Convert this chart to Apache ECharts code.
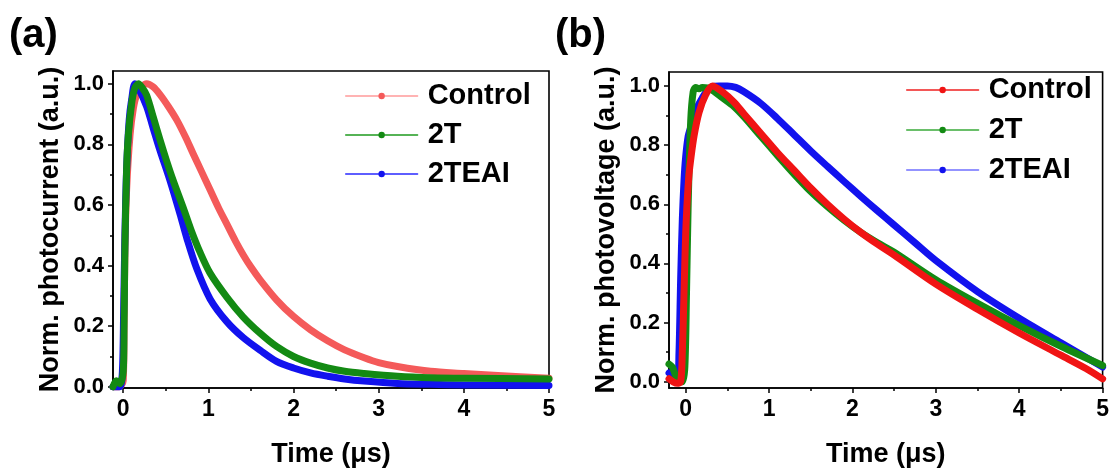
<!DOCTYPE html>
<html><head><meta charset="utf-8">
<script src="https://cdn.jsdelivr.net/npm/echarts@6/dist/echarts.min.js"></script>
<style>html,body{margin:0;padding:0;background:#fff}#c{width:1112px;height:473px}</style>
</head><body><div id="c"></div>
<script>
const seriesNames = ['Control', '2T', '2TEAI'];
const xTickValues = [0, 1, 2, 3, 4, 5];
const xMinorValues = [0.5, 1.5, 2.5, 3.5, 4.5];
const yTickValues = [0, 0.2, 0.4, 0.6, 0.8, 1.0];
const yMinorValues = [0.1, 0.3, 0.5, 0.7, 0.9];
const panelLabels = ['(a)', '(b)'];
const yTitles = ['Norm. photocurrent (a.u.)', 'Norm. photovoltage (a.u.)'];
const xTitle = 'Time (\u03bcs)';

// Panel (a): normalized photocurrent
const tA_control = [-0.12, -0.05, 0.0, 0.01, 0.02, 0.04, 0.08, 0.12, 0.16, 0.22, 0.275, 0.35, 0.43, 0.53, 0.63, 0.73, 0.82, 0.92, 1.02, 1.12, 1.22, 1.32, 1.41, 1.5, 1.61, 1.8, 2.0, 2.2, 2.4, 2.6, 2.83, 3.0, 3.22, 3.61, 4.0, 4.4, 5.0];
const vA_control = [0.0, 0.0, 0.02, 0.2, 0.45, 0.65, 0.83, 0.92, 0.965, 0.99, 1.0, 0.99, 0.965, 0.925, 0.88, 0.825, 0.77, 0.71, 0.65, 0.59, 0.535, 0.48, 0.435, 0.395, 0.352, 0.287, 0.232, 0.188, 0.152, 0.122, 0.096, 0.08, 0.067, 0.051, 0.044, 0.037, 0.028];
const tA_2T = [-0.12, -0.08, -0.04, 0.0, 0.01, 0.02, 0.04, 0.06, 0.1, 0.137, 0.178, 0.22, 0.275, 0.353, 0.432, 0.51, 0.588, 0.706, 0.8, 0.9, 1.02, 1.216, 1.41, 1.61, 1.8, 2.0, 2.2, 2.4, 2.6, 2.83, 3.22, 3.61, 4.0, 5.0];
const vA_2T = [0.0, 0.02, 0.01, 0.05, 0.2, 0.46, 0.72, 0.83, 0.937, 0.986, 1.0, 0.988, 0.962, 0.89, 0.815, 0.745, 0.68, 0.59, 0.515, 0.445, 0.375, 0.296, 0.23, 0.176, 0.133, 0.1, 0.078, 0.062, 0.051, 0.044, 0.035, 0.03, 0.028, 0.026];
const tA_2TEAI = [-0.12, -0.04, -0.01, 0.005, 0.02, 0.04, 0.07, 0.1, 0.137, 0.18, 0.275, 0.35, 0.432, 0.55, 0.667, 0.75, 0.863, 1.02, 1.216, 1.41, 1.61, 1.8, 2.0, 2.2, 2.4, 2.6, 2.83, 3.22, 3.61, 4.0, 5.0];
const vA_2TEAI = [0.0, 0.0, 0.05, 0.25, 0.5, 0.72, 0.88, 0.95, 1.0, 0.985, 0.925, 0.855, 0.78, 0.68, 0.57, 0.487, 0.39, 0.29, 0.215, 0.162, 0.12, 0.084, 0.062, 0.046, 0.035, 0.026, 0.019, 0.011, 0.008, 0.006, 0.004];

// Panel (b): normalized photovoltage
const tB_control = [-0.2, -0.15, -0.1, -0.06, -0.04, -0.02, 0.0, 0.02, 0.04, 0.06, 0.1, 0.16, 0.24, 0.32, 0.44, 0.58, 0.7, 0.9, 1.1, 1.3, 1.5, 1.7, 1.9, 2.1, 2.3, 2.5, 3.0, 3.5, 4.0, 4.5, 4.8, 5.0];
const vB_control = [0.01, 0.0, -0.005, 0.0, 0.1, 0.3, 0.5, 0.62, 0.7, 0.75, 0.83, 0.91, 0.97, 1.0, 0.98, 0.945, 0.905, 0.84, 0.775, 0.715, 0.655, 0.6, 0.55, 0.505, 0.465, 0.428, 0.33, 0.245, 0.165, 0.09, 0.045, 0.01];
const tB_2T = [-0.2, -0.16, -0.12, -0.08, -0.04, -0.01, 0.01, 0.03, 0.06, 0.09, 0.12, 0.16, 0.2, 0.26, 0.32, 0.44, 0.58, 0.7, 0.9, 1.1, 1.3, 1.5, 1.7, 1.9, 2.1, 2.3, 2.5, 3.0, 3.5, 4.0, 4.5, 5.0];
const vB_2T = [0.06, 0.05, 0.02, 0.0, 0.0, 0.05, 0.3, 0.6, 0.88, 0.98, 0.995, 0.99, 0.995, 0.993, 0.985, 0.96, 0.93, 0.895, 0.83, 0.765, 0.702, 0.643, 0.592, 0.546, 0.505, 0.47, 0.438, 0.345, 0.265, 0.19, 0.12, 0.055];
const tB_2TEAI = [-0.2, -0.15, -0.1, -0.08, -0.06, -0.04, -0.02, 0.0, 0.03, 0.06, 0.1, 0.14, 0.2, 0.26, 0.32, 0.4, 0.5, 0.6, 0.7, 0.9, 1.1, 1.3, 1.5, 1.7, 1.9, 2.1, 2.3, 2.5, 2.75, 3.0, 3.5, 4.0, 4.5, 5.0];
const vB_2TEAI = [0.03, 0.02, 0.01, 0.1, 0.35, 0.55, 0.68, 0.76, 0.83, 0.86, 0.91, 0.93, 0.96, 0.985, 0.998, 1.0, 1.0, 0.995, 0.98, 0.941, 0.89, 0.835, 0.78, 0.728, 0.677, 0.627, 0.578, 0.53, 0.47, 0.41, 0.305, 0.215, 0.132, 0.05];

const zip = (t, v) => t.map((x, i) => [x, v[i]]);
const FONT = '"Liberation Sans", Arial, sans-serif';

const colorsA = ['#f45a5a', '#138a13', '#1212ee'];
const legendLineA = ['#ff9a9a', '#1f9a1f', '#2a2aff'];
const colorsB = ['#f01414', '#138a13', '#1212ee'];
const legendLineB = ['#f02020', '#3aaa3a', '#7070ff'];

const grids = [
  { left: 113, top: 71, width: 436, height: 320 },
  { left: 669, top: 72, width: 434, height: 319 }
];
const xRanges = [[-0.12, 5.0], [-0.2, 5.0]];
const yRanges = [[-0.004, 1.042], [-0.021, 1.047]];

const xAxes = [], yAxes = [];
grids.forEach((g, i) => {
  xAxes.push({
    type: 'value', gridIndex: i, min: xRanges[i][0], max: xRanges[i][1], position: 'bottom',
    name: xTitle, nameLocation: 'middle', nameGap: 53,
    nameTextStyle: { fontSize: 27, fontWeight: 'bold', fontFamily: FONT, color: '#000' },
    axisLine: { show: true, onZero: false, lineStyle: { color: '#000', width: 1.6 } },
    axisTick: { show: true, inside: false, length: 5, customValues: xTickValues, lineStyle: { color: '#000', width: 1.5 } },
    axisLabel: { show: true, customValues: xTickValues, margin: 10, fontSize: 23, fontWeight: 'bold', fontFamily: FONT, color: '#000', formatter: v => String(Math.round(v)) },
    splitLine: { show: false }
  });
  xAxes.push({
    type: 'value', gridIndex: i, min: xRanges[i][0], max: xRanges[i][1], position: 'bottom',
    axisLine: { show: false, onZero: false },
    axisTick: { show: true, inside: false, length: 3, customValues: xMinorValues, lineStyle: { color: '#000', width: 1.5 } },
    axisLabel: { show: false }, splitLine: { show: false }
  });
  yAxes.push({
    type: 'value', gridIndex: i, min: yRanges[i][0], max: yRanges[i][1], position: 'left',
    name: yTitles[i], nameLocation: 'middle', nameGap: 49,
    nameTextStyle: { fontSize: 27, fontWeight: 'bold', fontFamily: FONT, color: '#000' },
    axisLine: { show: true, onZero: false, lineStyle: { color: '#000', width: 1.6 } },
    axisTick: { show: true, inside: false, length: 5, customValues: yTickValues, lineStyle: { color: '#000', width: 1.5 } },
    axisLabel: { show: true, customValues: yTickValues, margin: 9, fontSize: 22, fontWeight: 'bold', fontFamily: FONT, color: '#000', formatter: v => v.toFixed(1) },
    splitLine: { show: false }
  });
  yAxes.push({
    type: 'value', gridIndex: i, min: yRanges[i][0], max: yRanges[i][1], position: 'left',
    axisLine: { show: false, onZero: false },
    axisTick: { show: true, inside: false, length: 3, customValues: yMinorValues, lineStyle: { color: '#000', width: 1.5 } },
    axisLabel: { show: false }, splitLine: { show: false }
  });
});

function mkSeries(name, data, color, axisIdx, z) {
  return {
    name, type: 'line', data, xAxisIndex: axisIdx, yAxisIndex: axisIdx,
    showSymbol: false, symbol: 'circle', symbolSize: 6, smooth: 0.3, z,
    itemStyle: { color },
    lineStyle: { color, width: 7, cap: 'round', join: 'round' },
    emphasis: { disabled: true }, animation: false
  };
}

const series = [
  mkSeries(seriesNames[0], zip(tA_control, vA_control), colorsA[0], 0, 2),
  mkSeries(seriesNames[2], zip(tA_2TEAI, vA_2TEAI), colorsA[2], 0, 3),
  mkSeries(seriesNames[1], zip(tA_2T, vA_2T), colorsA[1], 0, 4),
  mkSeries(seriesNames[2], zip(tB_2TEAI, vB_2TEAI), colorsB[2], 2, 2),
  mkSeries(seriesNames[1], zip(tB_2T, vB_2T), colorsB[1], 2, 3),
  mkSeries(seriesNames[0], zip(tB_control, vB_control), colorsB[0], 2, 4)
];

function mkLegend(left, top, cols, lines, gap) {
  return {
    left, top, orient: 'vertical', padding: 0, itemGap: gap,
    itemWidth: 72, itemHeight: 8, selectedMode: false,
    textStyle: { fontSize: 29, fontWeight: 'bold', fontFamily: FONT, color: '#000', lineHeight: 30, padding: [0, 0, 0, 5] },
    data: seriesNames.map((n, i) => ({
      name: n,
      itemStyle: { color: cols[i] },
      lineStyle: { color: lines[i], width: 1.3 }
    }))
  };
}

const chart = echarts.init(document.getElementById('c'), null, { renderer: 'canvas' });
chart.setOption({
  animation: false,
  backgroundColor: '#fff',
  grid: grids.map(g => Object.assign({ show: true, borderColor: '#000', borderWidth: 1.6, backgroundColor: 'transparent', containLabel: false }, g)),
  xAxis: xAxes,
  yAxis: yAxes,
  legend: [mkLegend(345, 81, colorsA, legendLineA, 9), mkLegend(906, 75, colorsB, legendLineB, 10)],
  graphic: [
    { type: 'text', left: 9, top: 16, style: { text: panelLabels[0], font: 'bold 40px ' + FONT, fill: '#000' } },
    { type: 'text', left: 555, top: 16, style: { text: panelLabels[1], font: 'bold 40px ' + FONT, fill: '#000' } }
  ],
  series
});
</script></body></html>
